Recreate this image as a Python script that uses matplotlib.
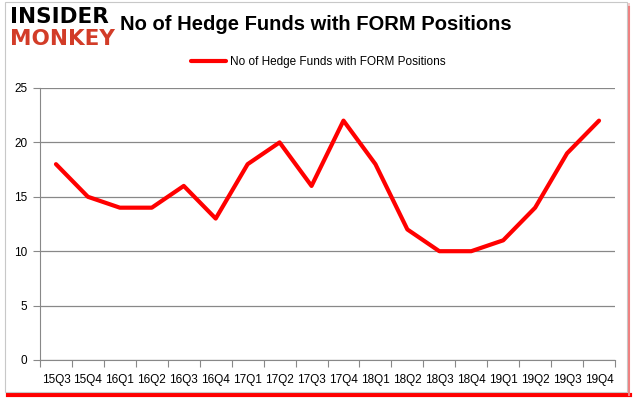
import matplotlib.pyplot as plt
from matplotlib.patches import Rectangle
from matplotlib.lines import Line2D

quarters = ['15Q3', '15Q4', '16Q1', '16Q2', '16Q3', '16Q4', '17Q1', '17Q2', '17Q3',
            '17Q4', '18Q1', '18Q2', '18Q3', '18Q4', '19Q1', '19Q2', '19Q3', '19Q4']
funds = [18, 15, 14, 14, 16, 13, 18, 20, 16, 22, 18, 12, 10, 10, 11, 14, 19, 22]
series_name = 'No of Hedge Funds with FORM Positions'

plt.rcParams['font.family'] = ['Liberation Sans', 'DejaVu Sans']

fig = plt.figure(figsize=(6.35, 4.05), dpi=100)

# outer frame with red shadow on bottom/right
fig.patches.append(Rectangle((8/635, 8/405), 622/635, 394/405, transform=fig.transFigure,
                             facecolor='#f6caca', edgecolor='none', zorder=0))
fig.patches.append(Rectangle((5/635, 13/405), 622/635, 390/405, transform=fig.transFigure,
                             facecolor='white', edgecolor='#c8c8c8', lw=0.8, zorder=1))
fig.add_artist(Line2D([8/635, 630/635], [10.5/405, 10.5/405], color='red', lw=3, zorder=0.5))
fig.add_artist(Line2D([628.5/635, 628.5/635], [10/405, 398/405], color='#f08080', lw=1.5, zorder=0.5))

ax = fig.add_axes([40/635, 45/405, 575/635, 272/405])
ax.set_zorder(2)
ax.patch.set_alpha(0)

x = list(range(len(quarters)))
ax.plot(x, funds, color='#ff0000', lw=3, solid_capstyle='round', label=series_name)

ax.set_xlim(-0.5, len(quarters) - 0.5)
ax.set_ylim(0, 25)
ax.set_yticks(range(0, 26, 5))
ax.set_xticks([i - 0.5 for i in range(len(quarters) + 1)])
ax.set_xticklabels([])
ax.set_xticks(x, minor=True)
ax.set_xticklabels(quarters, minor=True)
ax.tick_params(axis='x', which='minor', length=0, pad=10, labelsize=8.5)
ax.tick_params(axis='x', which='major', length=5, color='#888888')
ax.tick_params(axis='y', length=5, color='#888888', labelsize=8.5, pad=4)
ax.grid(axis='y', color='#888888', lw=0.9)
for s in ['top', 'right']:
    ax.spines[s].set_visible(False)
for s in ['left', 'bottom']:
    ax.spines[s].set_color('#888888')

fig.legend(loc='center', bbox_to_anchor=(318/635, 1 - 62/405), frameon=False,
           fontsize=8.5, handlelength=3.0, handletextpad=0.3)

fig.text(120/635, 1 - 25/405, series_name, fontsize=14.5, fontweight='bold', va='center')
fig.text(10/635, 1 - 17/405, 'INSIDER', fontsize=15.5, fontweight='black', va='center',
         color='black', family='DejaVu Sans')
fig.text(10/635, 1 - 39/405, 'MONKEY', fontsize=15.5, fontweight='black', va='center',
         color='#d23c28', family='DejaVu Sans')

fig.savefig('out.png', dpi=100)
